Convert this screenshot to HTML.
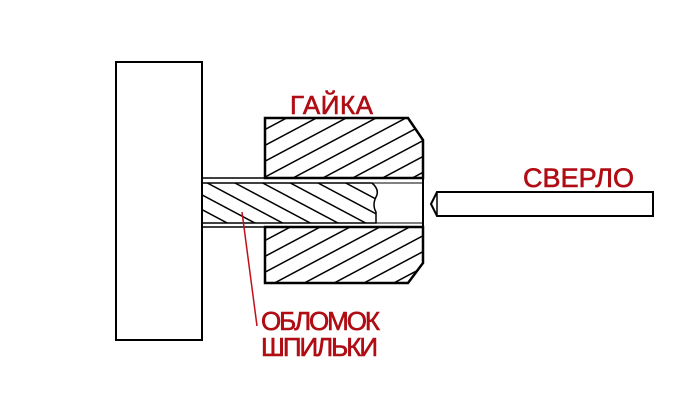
<!DOCTYPE html>
<html><head><meta charset="utf-8"><style>
html,body{margin:0;padding:0;background:#fff;}
svg{display:block;}
text{font-family:"Liberation Sans",sans-serif;fill:#b00c14;stroke:#b00c14;stroke-width:0.6;}
</style></head><body>
<svg width="700" height="416" viewBox="0 0 700 416" xmlns="http://www.w3.org/2000/svg">
<defs>
<pattern id="hU" patternUnits="userSpaceOnUse" width="14" height="14" patternTransform="rotate(62)">
<line x1="0" y1="0" x2="0" y2="14" stroke="#000" stroke-width="3"/>
</pattern>
<pattern id="hD" patternUnits="userSpaceOnUse" width="13" height="13" patternTransform="rotate(-62)">
<line x1="0" y1="0" x2="0" y2="13" stroke="#000" stroke-width="3"/>
</pattern>
</defs>
<rect x="116" y="62" width="86" height="278" fill="#fff" stroke="#000" stroke-width="2"/>
<polygon points="265,118 408,118 423,140 423,178 265,178" fill="url(#hU)" stroke="#000" stroke-width="2.5"/>
<polygon points="265,227 423,227 423,263 408,283 265,283" fill="url(#hU)" stroke="#000" stroke-width="2.5"/>
<line x1="202" y1="178" x2="423" y2="178" stroke="#000" stroke-width="1.5"/>
<line x1="202" y1="227" x2="423" y2="227" stroke="#000" stroke-width="1.5"/>
<line x1="423" y1="178" x2="423" y2="227" stroke="#000" stroke-width="2"/>
<path d="M202,183 L372,183 Q380,190 376,197 Q372,205 376,212 L376,223 L202,223 Z" fill="url(#hD)" stroke="#000" stroke-width="1.5"/>
<line x1="372" y1="183" x2="423" y2="183" stroke="#000" stroke-width="1"/>
<line x1="376" y1="223" x2="423" y2="223" stroke="#000" stroke-width="1"/>
<polygon points="437,192 653,192 653,216 437,216 431,204" fill="#fff" stroke="#000" stroke-width="2"/>
<line x1="437" y1="192" x2="437" y2="216" stroke="#000" stroke-width="1.5"/>
<line x1="242" y1="212" x2="257" y2="326" stroke="#c0101a" stroke-width="1.5"/>
<text x="290" y="114" font-size="26" textLength="83">ГАЙКА</text>
<text x="523" y="187" font-size="27" textLength="111">СВЕРЛО</text>
<text x="261" y="330" font-size="26" textLength="119">ОБЛОМОК</text>
<text x="261" y="356" font-size="26" textLength="117">ШПИЛЬКИ</text>
</svg>
</body></html>
